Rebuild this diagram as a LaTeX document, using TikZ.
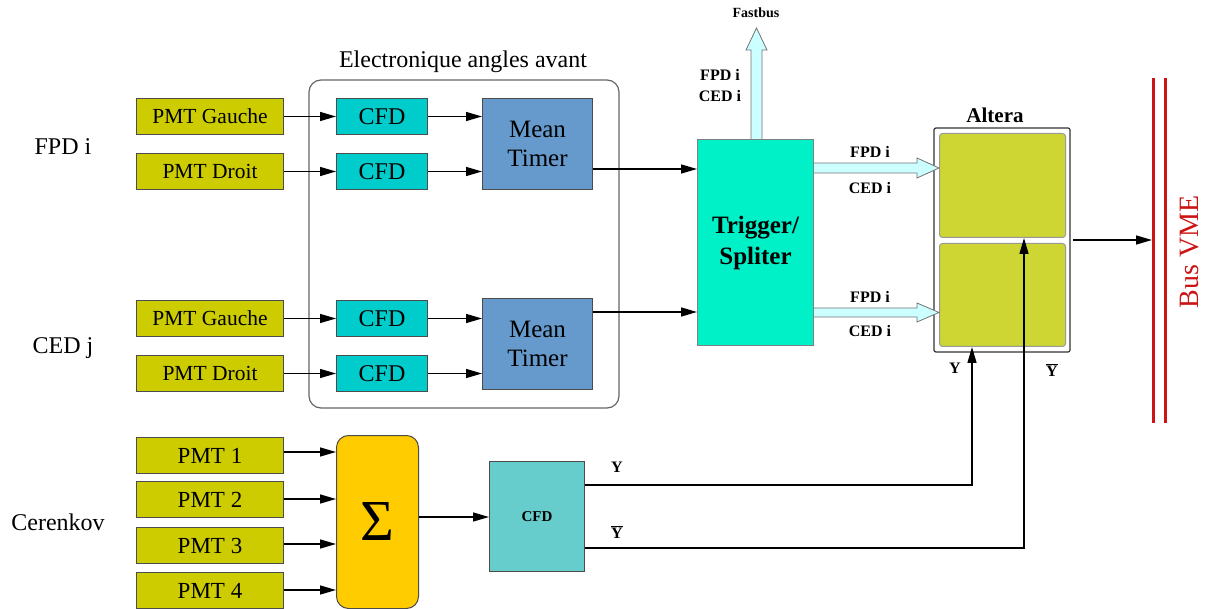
\documentclass[tikz,border=0pt]{standalone}
\usepackage{fontspec}
\setmainfont{Liberation Serif}
\usetikzlibrary{positioning, arrows.meta, calc}

\definecolor{pmtcol}{RGB}{204,204,0}
\definecolor{cfdcol}{RGB}{0,204,204}
\definecolor{mtcol}{RGB}{102,153,204}
\definecolor{trigcol}{RGB}{0,240,200}
\definecolor{altcol}{RGB}{205,214,50}
\definecolor{sumcol}{RGB}{255,204,0}
\definecolor{cfdbcol}{RGB}{102,204,204}
\definecolor{widecol}{RGB}{204,255,255}
\definecolor{buscol}{RGB}{204,20,20}

\newcommand{\fs}[1]{\fontsize{#1}{#1}\selectfont}

\begin{document}
\begin{tikzpicture}[
	x=1pt, y=-1pt,
	blk/.style={draw=black!70, line width=1pt, inner sep=0pt, anchor=north west},
	pmt/.style={blk, fill=pmtcol, minimum width=147pt, minimum height=36pt, font=\fs{21.5}},
	pmtn/.style={pmt, font=\fs{23}},
	cfd/.style={blk, fill=cfdcol, minimum width=91pt, minimum height=36pt, font=\fs{24}},
	mt/.style={blk, fill=mtcol, minimum width=110pt, minimum height=91pt, align=center, font=\fs{25}},
	lbl/.style={inner sep=0pt, font=\fs{16}\bfseries},
	sig/.style={draw=black, line width=1.4pt, -{Triangle[length=16pt,width=9pt]}},
	wide/.style={draw=black!55, line width=0.8pt, fill=widecol},
	]

	\useasboundingbox (0,0) rectangle (1207,609);

	% group labels
	\node[font=\fs{24}] (fpdl) at (63,147) {FPD i};
	\node[font=\fs{24}] (cedl) at (63,348) {CED j};
	\node[font=\fs{24}] (cerl) at (58,522) {Cerenkov};

	% forward angles electronics
	\draw[black!60, line width=1.2pt, rounded corners=12pt] (309,80) rectangle (619,408);
	\node[font=\fs{24}] (elec) at (463,62) {Electronique angles avant};

	\node[pmt] (pg1) at (136,98) {PMT Gauche};
	\node[pmt] (pd1) at (136,153) {PMT Droit};
	\node[pmt] (pg2) at (136,300) {PMT Gauche};
	\node[pmt] (pd2) at (136,355) {PMT Droit};

	\node[cfd] (cg1) at (336,98) {CFD};
	\node[cfd] (cd1) at (336,153) {CFD};
	\node[cfd] (cg2) at (336,300) {CFD};
	\node[cfd] (cd2) at (336,355) {CFD};

	\node[mt] (mt1) at (482,98) {Mean\\[4pt]Timer};
	\node[mt] (mt2) at (482,298) {Mean\\[4pt]Timer};

	\foreach \a/\b in {pg1/cg1, pd1/cd1, pg2/cg2, pd2/cd2}
		\draw[sig] (\a.east) -- (\b.west);
	\draw[sig] (cg1.east) -- (cg1.east -| mt1.west);
	\draw[sig] (cd1.east) -- (cd1.east -| mt1.west);
	\draw[sig] (cg2.east) -- (cg2.east -| mt2.west);
	\draw[sig] (cd2.east) -- (cd2.east -| mt2.west);

	% trigger / splitter
	\node[blk, draw=black!50, fill=trigcol, minimum width=116pt, minimum height=206pt,
		align=center, font=\fs{25}\bfseries] (trig) at (697,139) {Trigger/\\[6pt]Spliter};
	\draw[sig] (mt1.east |- 0,169) -- (trig.west |- 0,169);
	\draw[sig] (mt2.east |- 0,312) -- (trig.west |- 0,312);

	% fastbus output
	\filldraw[wide] (751,139) -- (751,50) -- (746,50) -- (756.5,28) -- (767,50) -- (762,50) -- (762,139);
	\node[lbl, font=\fs{14}\bfseries] (fast) at (756,13) {Fastbus};
	\node[lbl] (ff) at (720,75) {FPD i};
	\node[lbl] (fc) at (720,96) {CED i};

	% altera
	\draw[black!80, line width=1.2pt, rounded corners=2pt] (934,128) rectangle (1070,352);
	\node[blk, draw=black!40, fill=altcol, rounded corners=3pt, minimum width=126pt, minimum height=104pt] (alt1) at (939,133) {};
	\node[blk, draw=black!40, fill=altcol, rounded corners=3pt, minimum width=126pt, minimum height=103pt] (alt2) at (939,243) {};
	\node[lbl, font=\fs{21}\bfseries] (altl) at (995,115) {Altera};

	% wide links to altera
	\filldraw[wide] (trig.east |- 0,163) -- (917,163) -- (917,158) -- (alt1.west |- 0,168) -- (917,178) -- (917,173) -- (trig.east |- 0,173);
	\filldraw[wide] (trig.east |- 0,308) -- (917,308) -- (917,303) -- (alt2.west |- 0,312.5) -- (917,322) -- (917,317) -- (trig.east |- 0,317);
	\node[lbl] (a1) at (870,152) {FPD i};
	\node[lbl] (a2) at (870,188) {CED i};
	\node[lbl] (a3) at (870,297) {FPD i};
	\node[lbl] (a4) at (870,331) {CED i};

	% VME bus
	\draw[buscol, line width=3pt] (1153,78) -- (1153,423);
	\draw[buscol, line width=3pt] (1165,78) -- (1165,423);
	\coordinate (bus) at (1152,240);
	\draw[sig] (1073,240) -- (bus);
	\node[rotate=90, text=buscol, font=\fs{28}] (vme) at (1190,252) {Bus VME};

	% cerenkov
	\node[pmtn] (p1) at (136,437) {PMT 1};
	\node[pmtn] (p2) at (136,481) {PMT 2};
	\node[pmtn] (p3) at (136,527) {PMT 3};
	\node[pmtn] (p4) at (136,572) {PMT 4};
	\node[blk, fill=sumcol, rounded corners=12pt, minimum width=82pt, minimum height=173pt,
		font=\fs{58}] (sum) at (336,435) {Σ};
	\foreach \p/\yy in {p1/452, p2/499, p3/544, p4/590}
		\draw[sig] (\p.east |- 0,\yy) -- (sum.west |- 0,\yy);

	\node[blk, fill=cfdbcol, minimum width=95pt, minimum height=110pt, font=\fs{15}\bfseries] (cfdc) at (489,461) {CFD};
	\draw[sig] (sum.east |- 0,517) -- (cfdc.west |- 0,517);

	\draw[sig] (cfdc.east |- 0,485) -- (972,485) -- (972,347);
	\draw[sig] (cfdc.east |- 0,548) -- (1024,548) -- (alt1.south -| 1024,0);
	\node[lbl] (y1) at (617,467) {Y};
	\node[lbl] (y2) at (617,532) {$\overline{\hbox{\bfseries Y}}$};
	\node[lbl] (y3) at (955,368) {Y};
	\node[lbl] (y4) at (1052,370) {$\overline{\hbox{\bfseries Y}}$};

\end{tikzpicture}
\end{document}
